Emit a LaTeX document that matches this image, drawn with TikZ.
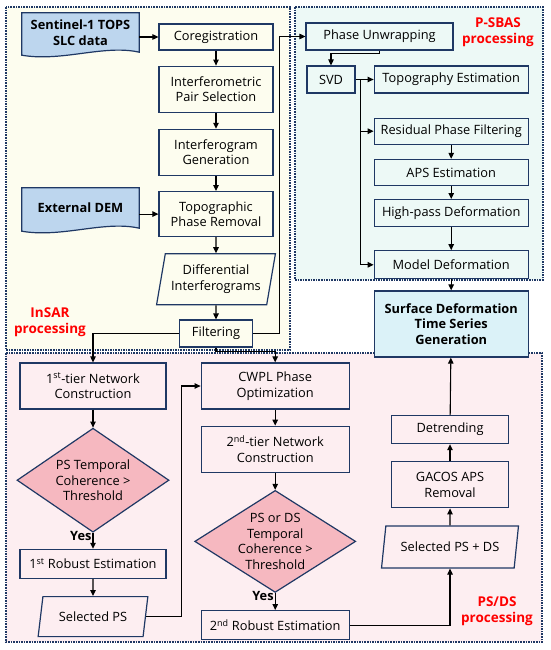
\documentclass[tikz,border=0pt]{standalone}
\usepackage{fontspec}
\setmainfont{Open Sans}
\usepackage{xcolor}
\usetikzlibrary{arrows.meta,positioning,calc,shapes.geometric,backgrounds}
\definecolor{navy}{HTML}{1F3864}
\definecolor{insarbg}{HTML}{FDFDEF}
\definecolor{psbasbg}{HTML}{EDF9F6}
\definecolor{psdsbg}{HTML}{FDEEF1}
\definecolor{decfill}{HTML}{F6B8C0}
\definecolor{srcfill}{HTML}{BDD6EE}
\definecolor{surffill}{HTML}{DBF2F8}
\newcommand{\boxfont}{\fontsize{12.8}{15.5}\selectfont}
\newcommand{\wavybox}[1]{%
  \draw[navy, line width=1.2pt, fill=srcfill] (#1.north west) -- (#1.north east)
    -- (#1.south east) .. controls ($(#1.south east)+(-35,-8)$) and ($(#1.south west)+(40,10)$)
    .. ($(#1.south west)+(0,3)$) -- cycle;}
\tikzset{
  procbox/.style={draw=navy, line width=1.2pt, inner sep=2pt, align=center,
    font=\boxfont},
  databox/.style={procbox, shape=trapezium, trapezium left angle=76,
    trapezium right angle=104, trapezium stretches=true},
  decbox/.style={procbox, shape=diamond, fill=decfill, inner sep=-16pt},
  srcbox/.style={inner sep=0pt, align=center, font=\boxfont\bfseries},
  region/.style={draw=navy, line width=1.6pt, densely dotted},
  grouplbl/.style={text=red, align=center,
    font=\fontsize{13.5}{15.5}\selectfont\bfseries},
  yeslbl/.style={font=\boxfont\bfseries, inner sep=1pt},
  flow/.style={-{Triangle[length=6pt,width=5.5pt]}, line width=1.1pt},
  link/.style={line width=1.1pt}
}

\begin{document}
\begin{tikzpicture}[x=1pt, y=-1pt, node distance=15pt]
  \useasboundingbox (0,0) rectangle (550,650);

  % processing regions
  \begin{scope}[on background layer]
    \draw[region, fill=insarbg] (6,7) rectangle (290,350);
    \draw[region, fill=psbasbg] (295,7) rectangle (543,280);
    \draw[region, fill=psdsbg] (6,353) rectangle (542,642);
  \end{scope}

  % InSAR processing
  \node[procbox, minimum width=114pt, minimum height=26pt] (coreg) at (216,37)
    {Coregistration};
  \node[procbox, below=of coreg, minimum width=114pt, minimum height=46pt] (pairsel)
    {Interferometric\\Pair Selection};
  \node[procbox, below=16pt of pairsel, minimum width=114pt, minimum height=46pt] (ifggen)
    {Interferogram\\Generation};
  \node[procbox, below=of ifggen, minimum width=114pt, minimum height=45pt] (toporem)
    {Topographic\\Phase Removal};
  \node[databox, below=16pt of toporem, minimum width=119pt, minimum height=51pt] (diffifg)
    {Differential\\Interferograms};
  \node[procbox, below=14pt of diffifg, minimum width=73pt, minimum height=27pt] (filt)
    {Filtering};
  \node[srcbox, minimum width=117pt, minimum height=39pt] (sentinel) at (80.5,32.5)
    {Sentinel-1 TOPS\\SLC data};
  \node[srcbox, minimum width=117pt, minimum height=40pt] (dem) at (80.5,208)
    {External DEM};
  \begin{scope}[on background layer]
    \wavybox{sentinel}
    \wavybox{dem}
  \end{scope}
  \node[grouplbl] (insarlbl) at (50,322) {InSAR\\processing};

  \draw[flow] (sentinel.east |- coreg.west) -- (coreg.west);
  \draw[flow] (dem.east |- toporem.west) -- (toporem.west);
  \draw[flow] (coreg) -- (pairsel);
  \draw[flow] (pairsel) -- (ifggen);
  \draw[flow] (ifggen) -- (toporem);
  \draw[flow] (toporem) -- (diffifg);
  \draw[flow] (diffifg) -- (filt);

  % P-SBAS processing
  \node[procbox, minimum width=147pt, minimum height=27pt] (unwrap) at (379.5,36.5)
    {Phase Unwrapping};
  \node[procbox, minimum width=48pt, minimum height=27pt] (svd) at (331,79.5) {SVD};
  \node[procbox, right=18pt of svd, minimum width=154pt, minimum height=27pt] (topoest)
    {Topography Estimation};
  \node[procbox, below=24pt of topoest, minimum width=154pt, minimum height=26pt] (resfilt)
    {Residual Phase Filtering};
  \node[procbox, below=14pt of resfilt, minimum width=154pt, minimum height=26pt] (apsest)
    {APS Estimation};
  \node[procbox, below=13pt of apsest, minimum width=154pt, minimum height=27pt] (hpdef)
    {High-pass Deformation};
  \node[procbox, below=23pt of hpdef, minimum width=154pt, minimum height=28pt] (moddef)
    {Model Deformation};
  \node[procbox, fill=surffill, font=\boxfont\bfseries, below=11pt of moddef,
    minimum width=154pt, minimum height=66pt] (surfdef)
    {Surface Deformation\\Time Series\\Generation};
  \node[grouplbl] (psbaslbl) at (498,32) {P-SBAS\\processing};
  \coordinate (bus) at ($(svd.east)+(5,0)$);

  \draw[flow] (filt.east) -- ++(26,0) |- (unwrap.west);
  \draw[flow] (unwrap.south) -- ++(0,3) -| (svd.north);
  \draw[flow] (svd) -- (topoest);
  \draw[flow] (bus) |- (resfilt.west);
  \draw[flow] (bus) |- (moddef.west);
  \draw[flow] (resfilt) -- (apsest);
  \draw[flow] (apsest) -- (hpdef);
  \draw[flow] (hpdef) -- (moddef);
  \draw[flow] (moddef) -- (surfdef);

  % PS/DS processing
  \node[procbox, minimum width=146pt, minimum height=46pt] (net1) at (93,386)
    {1\textsuperscript{st}-tier Network\\Construction};
  \node[decbox, below=18pt of net1, minimum width=152pt, minimum height=104pt] (dec1)
    {PS Temporal\\Coherence >\\Threshold};
  \node[procbox, below=16pt of dec1, minimum width=146pt, minimum height=29pt] (rob1)
    {1\textsuperscript{st} Robust Estimation};
  \node[databox, below=17pt of rob1, minimum width=110pt, minimum height=40pt] (selps)
    {Selected PS};
  \node[procbox, right=34pt of net1, minimum width=148pt, minimum height=46pt] (cwpl)
    {CWPL Phase\\Optimization};
  \node[procbox, below=16pt of cwpl, minimum width=148pt, minimum height=46pt] (net2)
    {2\textsuperscript{nd}-tier Network\\Construction};
  \node[decbox, below=17pt of net2, minimum width=161pt, minimum height=102pt] (dec2)
    {PS or DS\\Temporal\\Coherence >\\Threshold};
  \node[procbox, below=17pt of dec2, minimum width=148pt, minimum height=29pt] (rob2)
    {2\textsuperscript{nd} Robust Estimation};
  \node[databox, minimum width=137pt, minimum height=42pt] (selpsds) at (450,547)
    {Selected PS + DS};
  \node[procbox, above=17pt of selpsds, minimum width=117pt, minimum height=46pt] (gacos)
    {GACOS APS\\Removal};
  \node[procbox, above=17pt of gacos, minimum width=117pt, minimum height=28pt] (detrend)
    {Detrending};
  \node[grouplbl] (psdslbl) at (497,611) {PS/DS\\processing};

  \draw[flow] (filt.west) -| (net1.north);
  \draw[flow] (filt.south) -- ++(0,4) -| (cwpl.north);
  \draw[flow] (net1) -- (dec1);
  \draw[flow] (dec1) -- node[yeslbl, left, pos=0.2] {Yes} (rob1);
  \draw[flow] (rob1) -- (selps);
  \draw[flow] (selps.east) -- ++(35,0) |- (cwpl.west);
  \draw[flow] (cwpl) -- (net2);
  \draw[flow] (net2) -- (dec2);
  \draw[flow] (dec2) -- node[yeslbl, left, pos=0.2] {Yes} (rob2);
  \draw[flow] (rob2.east) -| (selpsds.south);
  \draw[flow] (selpsds) -- (gacos);
  \draw[flow] (gacos) -- (detrend);
  \draw[flow] (detrend) -- (surfdef);
\end{tikzpicture}
\end{document}
